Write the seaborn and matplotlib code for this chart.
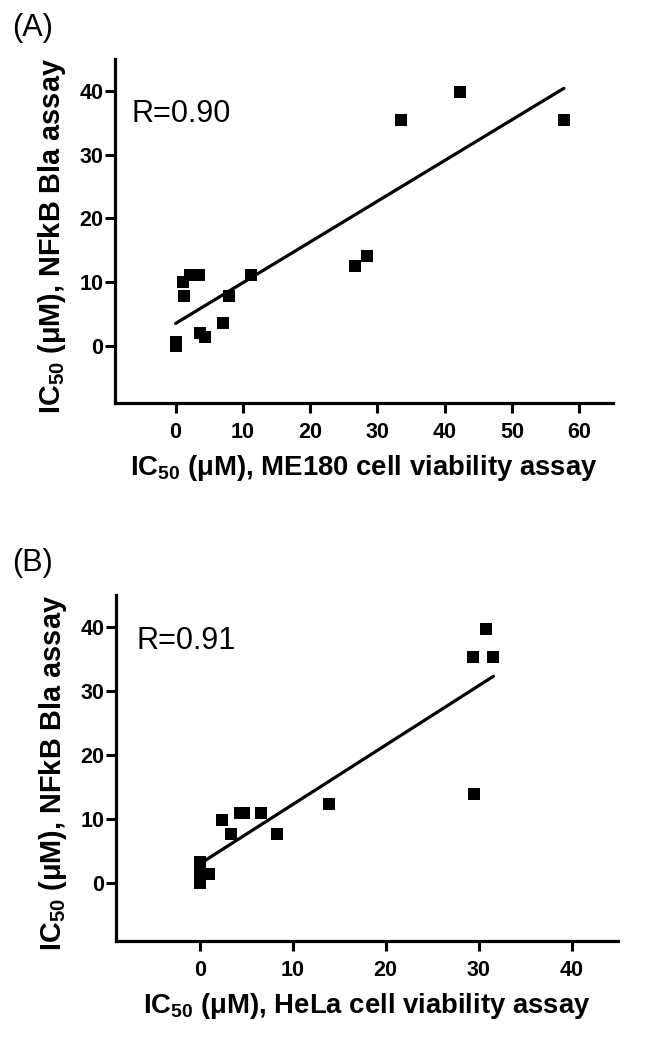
import numpy as np
import pandas as pd
import matplotlib
matplotlib.use("Agg")
import matplotlib.pyplot as plt
import seaborn as sns

# Panel A: ME180 cell viability IC50 vs NFkB Bla IC50
me180_x = [0.0, 0.1, 1.1, 1.3, 2.1, 3.5, 3.7, 4.3, 7.1, 8.0, 11.2, 26.6, 28.4, 33.5, 42.2, 57.7]
nfkb_a_y = [0.0, 0.5, 10.0, 7.8, 11.1, 11.1, 2.0, 1.4, 3.5, 7.8, 11.1, 12.5, 14.0, 35.4, 39.8, 35.4]

# Panel B: HeLa cell viability IC50 vs NFkB Bla IC50
hela_x = [0.0, 0.0, 0.0, 0.0, 1.0, 2.4, 3.4, 4.3, 4.8, 6.6, 8.3, 13.9, 29.5, 29.4, 30.8, 31.6]
nfkb_b_y = [0.0, 0.5, 2.0, 3.4, 1.5, 9.9, 7.7, 10.9, 10.9, 10.9, 7.7, 12.4, 14.0, 35.4, 39.7, 35.4]

r_labels = ["R=0.90", "R=0.91"]
panel_labels = ["(A)", "(B)"]
x_labels = [r"IC$_{50}$ ($\mu$M), ME180 cell viability assay",
            r"IC$_{50}$ ($\mu$M), HeLa cell viability assay"]
y_label = r"IC$_{50}$ ($\mu$M), NFkB Bla assay"
x_ticks = [[0, 10, 20, 30, 40, 50, 60], [0, 10, 20, 30, 40]]
y_ticks = [0, 10, 20, 30, 40]

sns.set_style("ticks")
plt.rcParams["font.family"] = ["Liberation Sans", "DejaVu Sans"]
plt.rcParams["mathtext.fontset"] = "custom"
plt.rcParams["mathtext.rm"] = "Liberation Sans:bold"
plt.rcParams["mathtext.it"] = "Liberation Sans:bold"
plt.rcParams["mathtext.bf"] = "Liberation Sans:bold"
plt.rcParams["mathtext.default"] = "rm"
for k in ["text.color", "axes.labelcolor", "xtick.color", "ytick.color", "axes.edgecolor"]:
    plt.rcParams[k] = "black"

fig = plt.figure(figsize=(6.48, 10.48), dpi=100)
axA = fig.add_axes([115/648, 1-403/1048, 498/648, 344/1048])
axB = fig.add_axes([116/648, 1-941/1048, 502/648, 346/1048])

dfA = pd.DataFrame({"x": me180_x, "y": nfkb_a_y})
dfB = pd.DataFrame({"x": hela_x, "y": nfkb_b_y})

for i, (ax, df, xl) in enumerate(zip([axA, axB], [dfA, dfB], [(-9, 65), (-9, 45)])):
    sns.regplot(data=df, x="x", y="y", ax=ax, ci=None, marker="s", truncate=True,
                scatter_kws={"s": 68, "color": "black", "linewidths": 0, "alpha": 1},
                line_kws={"color": "black", "lw": 2.3})
    ax.set_xlim(*xl)
    ax.set_ylim(-9, 45)
    ax.set_xticks(x_ticks[i])
    ax.set_yticks(y_ticks)
    sns.despine(ax=ax)
    for s in ["left", "bottom"]:
        ax.spines[s].set_linewidth(2.3)
        ax.spines[s].set_color("black")
    ax.tick_params(axis="x", direction="out", length=7.5, width=2.2, color="black",
                   labelsize=15.5, pad=6.5)
    ax.tick_params(axis="y", direction="out", length=7, width=2.2, color="black",
                   labelsize=15.5, pad=1.5)
    for lab in ax.get_xticklabels() + ax.get_yticklabels():
        lab.set_fontweight("bold")
    ax.set_xlabel(x_labels[i], fontsize=19.8, fontweight="bold", labelpad=7)
    ax.set_ylabel(y_label, fontsize=20.8, fontweight="bold", labelpad=8)
    ax.yaxis.label.set_y(0.485)
    ax.text(0.034 if i == 0 else 0.04, 0.818 if i == 0 else 0.843, r_labels[i],
            transform=ax.transAxes, fontsize=22, va="baseline", ha="left")

fig.text(12/648, 1-13/1048, panel_labels[0], fontsize=22, va="top", ha="left")
fig.text(12/648, 1-548/1048, panel_labels[1], fontsize=22, va="top", ha="left")

fig.savefig("out.png", dpi=100)
